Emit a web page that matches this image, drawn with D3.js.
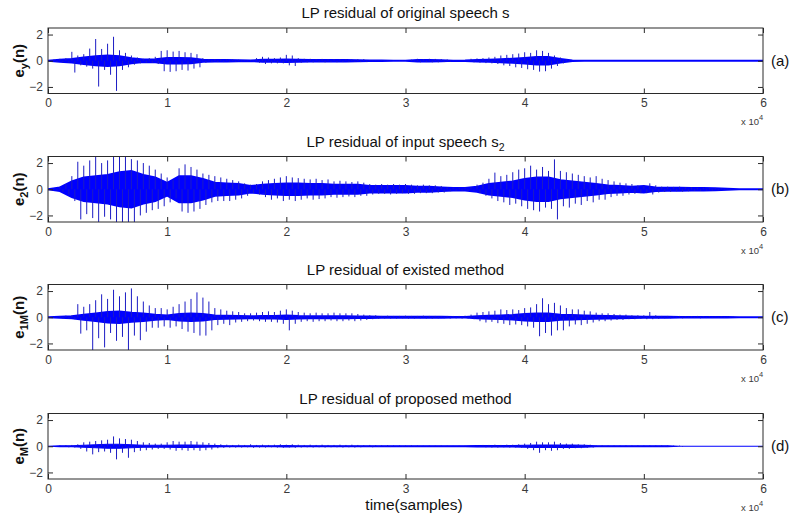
<!DOCTYPE html>
<html>
<head>
<meta charset="utf-8">
<script src="https://cdn.jsdelivr.net/npm/d3@7"></script>
<style>
  body { margin: 0; background: #fff; }
  text { font-family: "Liberation Sans", Arial, sans-serif; }
</style>
</head>
<body>
<svg id="chart" width="794" height="514"></svg>
<script>
// Tick values: x in units of 10^4 samples, y residual amplitude
const xTicks = [0, 1, 2, 3, 4, 5, 6];
const yTicks = [-2, 0, 2];
const xExponent = 4;

// Dense body of each residual: amplitude every 1000 samples (0 .. 60000)
const coreStep = 1000;
const coreA = [
  0, 0.08, 0.15, 0.25, 0.35, 0.4, 0.35, 0.2, 0.1, 0.12,
  0.22, 0.22, 0.2, 0.08, 0.06, 0.06, 0.05, 0.03, 0.08, 0.08,
  0.1, 0.08, 0.07, 0.07, 0.06, 0.06, 0.05, 0.02, 0.02, 0.01,
  0.01, 0.06, 0.07, 0.05, 0.01, 0.02, 0.06, 0.08, 0.12, 0.16,
  0.22, 0.3, 0.3, 0.15, 0.02, 0, 0, 0, 0, 0,
  0, 0, 0, 0, 0, 0, 0, 0, 0, 0, 0
];
const coreB = [
  0, 0.15, 0.6, 0.9, 1.0, 1.1, 1.3, 1.4, 1.1, 0.9,
  0.5, 1.0, 1.0, 0.8, 0.5, 0.45, 0.4, 0.25, 0.35, 0.4,
  0.45, 0.45, 0.4, 0.4, 0.35, 0.35, 0.35, 0.25, 0.25, 0.25,
  0.25, 0.2, 0.2, 0.15, 0.1, 0.1, 0.2, 0.4, 0.5, 0.6,
  0.8, 0.9, 0.9, 0.7, 0.6, 0.5, 0.4, 0.3, 0.25, 0.2,
  0.25, 0.15, 0.12, 0.12, 0.1, 0.1, 0.08, 0.05, 0, 0, 0
];
const coreC = [
  0, 0.05, 0.08, 0.2, 0.3, 0.4, 0.45, 0.35, 0.3, 0.2,
  0.15, 0.25, 0.3, 0.25, 0.15, 0.12, 0.1, 0.08, 0.1, 0.1,
  0.15, 0.1, 0.08, 0.08, 0.08, 0.08, 0.07, 0.06, 0.05, 0.05,
  0.05, 0.04, 0.04, 0.04, 0.03, 0.03, 0.08, 0.12, 0.15, 0.18,
  0.25, 0.3, 0.3, 0.2, 0.18, 0.15, 0.12, 0.1, 0.08, 0.06,
  0.05, 0.05, 0.04, 0.03, 0.03, 0.03, 0.02, 0.02, 0, 0, 0
];
const coreD = [
  0, 0.03, 0.04, 0.08, 0.12, 0.15, 0.15, 0.12, 0.08, 0.08,
  0.08, 0.1, 0.1, 0.08, 0.05, 0.04, 0.04, 0.03, 0.04, 0.04,
  0.05, 0.04, 0.03, 0.03, 0.03, 0.03, 0.03, 0.03, 0.03, 0.03,
  0.03, 0.03, 0.03, 0.03, 0.03, 0.03, 0.05, 0.05, 0.05, 0.05,
  0.08, 0.09, 0.1, 0.1, 0.09, 0.08, 0.03, 0.03, 0.03, 0.03,
  0.03, 0.03, 0.03, 0, 0, 0, 0, 0, 0, 0, 0
];

// Excitation peaks every 500 samples: positive and negative extremes
const peakStep = 500;
const hiA = [
  0, 0.1, 0.15, 0.2, 0.68, 0.4, 0.5, 0.93, 1.66, 0.9,
  1.3, 1.83, 0.8, 0.6, 0.4, 0.25, 0.15, 0.2, 0.3, 0.75,
  0.8, 0.7, 0.75, 0.65, 0.6, 0.5, 0.2, 0.12, 0.12, 0.1,
  0.12, 0.1, 0.08, 0.04, 0.05, 0.2, 0.3, 0.25, 0.2, 0.25,
  0.45, 0.4, 0.2, 0.15, 0.15, 0.12, 0.14, 0.12, 0.13, 0.12,
  0.12, 0.1, 0.12, 0.12, 0.05, 0.03, 0.03, 0.02, 0.02, 0.03,
  0.02, 0.08, 0.15, 0.12, 0.15, 0.14, 0.12, 0.1, 0.03, 0.02,
  0.03, 0.15, 0.18, 0.2, 0.25, 0.3, 0.4, 0.45, 0.5, 0.55,
  0.65, 0.6, 0.8, 0.75, 0.6, 0.4, 0.25, 0.1, 0, 0,
  0, 0, 0, 0, 0, 0, 0, 0, 0, 0,
  0, 0, 0, 0, 0, 0, 0, 0, 0, 0,
  0, 0, 0, 0, 0, 0, 0, 0, 0, 0, 0
];
const loA = [
  0, -0.1, -0.15, -0.15, -0.9, -0.35, -0.45, -0.6, -1.97, -0.7,
  -1.07, -2.3, -0.7, -0.5, -0.3, -0.2, -0.15, -0.15, -0.25, -0.8,
  -0.85, -0.8, -0.7, -0.75, -0.6, -0.5, -0.15, -0.1, -0.1, -0.1,
  -0.1, -0.08, -0.06, -0.04, -0.05, -0.15, -0.25, -0.2, -0.2, -0.2,
  -0.35, -0.4, -0.15, -0.12, -0.12, -0.1, -0.12, -0.1, -0.11, -0.1,
  -0.1, -0.08, -0.1, -0.1, -0.04, -0.03, -0.02, -0.02, -0.02, -0.02,
  -0.02, -0.06, -0.12, -0.1, -0.12, -0.12, -0.1, -0.08, -0.03, -0.02,
  -0.03, -0.12, -0.15, -0.18, -0.2, -0.25, -0.35, -0.4, -0.5, -0.55,
  -0.65, -0.7, -0.83, -0.8, -0.6, -0.4, -0.2, -0.08, 0, 0,
  0, 0, 0, 0, 0, 0, 0, 0, 0, 0,
  0, 0, 0, 0, 0, 0, 0, 0, 0, 0,
  0, 0, 0, 0, 0, 0, 0, 0, 0, 0, 0
];
const hiB = [
  0, 0.05, 0.2, 0.4, 1.0, 2.1, 1.8, 2.2, 2.5, 2.0,
  2.2, 2.5, 2.5, 2.5, 2.3, 2.2, 2.0, 1.8, 1.5, 1.2,
  0.9, 0.7, 1.6, 1.9, 1.7, 1.5, 1.2, 1.1, 1.0, 0.9,
  0.8, 0.7, 0.6, 0.45, 0.35, 0.4, 0.6, 0.7, 0.8, 0.9,
  1.0, 0.9, 0.85, 0.8, 0.75, 0.8, 0.7, 0.75, 0.6, 0.65,
  0.6, 0.55, 0.6, 0.5, 0.4, 0.35, 0.4, 0.35, 0.4, 0.35,
  0.4, 0.35, 0.3, 0.35, 0.3, 0.3, 0.25, 0.15, 0.12, 0.12,
  0.12, 0.15, 0.35, 0.5, 0.8, 1.27, 1.0, 1.1, 1.3, 1.5,
  1.6, 1.8, 1.5, 1.7, 1.4, 2.28, 1.4, 1.3, 1.2, 1.1,
  1.0, 0.9, 1.0, 0.8, 0.7, 0.6, 0.5, 0.45, 0.4, 0.3,
  0.3, 0.45, 0.3, 0.2, 0.2, 0.18, 0.2, 0.15, 0.15, 0.12,
  0.12, 0.1, 0.1, 0.08, 0.05, 0.02, 0, 0, 0, 0, 0
];
const loB = [
  0, -0.05, -0.2, -0.4, -0.9, -2.3, -1.9, -2.2, -2.5, -2.1,
  -2.3, -2.5, -2.5, -2.5, -2.5, -2.0, -1.8, -1.6, -1.5, -1.3,
  -1.0, -0.7, -1.7, -1.8, -1.7, -1.5, -1.2, -1.0, -0.9, -0.9,
  -0.9, -0.8, -0.7, -0.5, -0.3, -0.4, -0.6, -0.8, -0.7, -0.9,
  -0.8, -0.9, -0.8, -0.7, -0.8, -0.75, -0.7, -0.6, -0.65, -0.6,
  -0.55, -0.6, -0.5, -0.5, -0.4, -0.35, -0.35, -0.4, -0.35, -0.3,
  -0.35, -0.35, -0.3, -0.3, -0.3, -0.25, -0.25, -0.15, -0.12, -0.1,
  -0.12, -0.12, -0.3, -0.5, -0.7, -0.9, -1.0, -1.2, -1.1, -1.3,
  -1.5, -1.6, -1.7, -1.4, -1.5, -2.3, -1.3, -1.4, -1.1, -1.2,
  -0.9, -1.0, -0.8, -0.8, -0.6, -0.5, -0.5, -0.4, -0.35, -0.3,
  -0.3, -0.4, -0.25, -0.2, -0.2, -0.15, -0.18, -0.15, -0.12, -0.12,
  -0.1, -0.1, -0.08, -0.06, -0.05, -0.02, 0, 0, 0, 0, 0
];
const hiC = [
  0, 0.05, 0.1, 0.12, 0.15, 1.0, 0.8, 1.0, 1.3, 1.75,
  1.4, 2.1, 1.6, 1.9, 2.2, 1.6, 1.2, 0.9, 0.7, 0.7,
  0.6, 0.8, 1.0, 1.2, 1.4, 1.9, 1.5, 1.2, 0.7, 0.6,
  0.5, 0.45, 0.4, 0.3, 0.3, 0.35, 0.4, 0.45, 0.4, 0.5,
  0.6, 0.5, 0.4, 0.35, 0.3, 0.35, 0.3, 0.3, 0.35, 0.3,
  0.3, 0.3, 0.25, 0.2, 0.15, 0.15, 0.1, 0.12, 0.1, 0.1,
  0.12, 0.1, 0.1, 0.12, 0.1, 0.1, 0.08, 0.1, 0.1, 0.1,
  0.12, 0.2, 0.35, 0.4, 0.45, 0.5, 0.6, 0.55, 0.6, 0.55,
  0.7, 0.75, 1.0, 1.45, 1.0, 1.1, 0.9, 0.7, 0.6, 0.6,
  0.5, 0.45, 0.35, 0.3, 0.3, 0.25, 0.2, 0.2, 0.15, 0.15,
  0.15, 0.4, 0.15, 0.1, 0.1, 0.08, 0.1, 0.08, 0.08, 0.1,
  0.08, 0.08, 0.06, 0.08, 0.06, 0.05, 0, 0, 0, 0, 0
];
const loC = [
  0, -0.05, -0.1, -0.1, -0.15, -1.25, -1.0, -2.5, -1.6, -2.3,
  -1.2, -1.8, -1.5, -2.5, -1.4, -1.75, -1.1, -0.8, -0.8, -0.7,
  -0.8, -0.7, -0.9, -1.1, -1.2, -1.4, -1.4, -1.0, -0.6, -0.5,
  -0.6, -0.4, -0.35, -0.3, -0.25, -0.3, -0.35, -0.35, -0.4, -0.5,
  -1.0, -0.5, -0.35, -0.3, -0.35, -0.3, -0.3, -0.25, -0.3, -0.3,
  -0.25, -0.3, -0.25, -0.2, -0.15, -0.12, -0.1, -0.1, -0.1, -0.08,
  -0.1, -0.1, -0.08, -0.1, -0.1, -0.08, -0.08, -0.1, -0.08, -0.1,
  -0.1, -0.15, -0.3, -0.4, -0.35, -0.45, -0.5, -0.6, -0.55, -0.6,
  -0.7, -0.8, -1.45, -1.2, -1.4, -1.0, -1.0, -0.7, -0.55, -0.6,
  -0.5, -0.4, -0.3, -0.3, -0.25, -0.2, -0.2, -0.15, -0.15, -0.12,
  -0.15, -0.15, -0.12, -0.08, -0.08, -0.06, -0.08, -0.06, -0.06, -0.08,
  -0.06, -0.06, -0.05, -0.06, -0.05, -0.04, 0, 0, 0, 0, 0
];
const hiD = [
  0, 0.03, 0.06, 0.08, 0.1, 0.15, 0.3, 0.35, 0.4, 0.45,
  0.5, 0.75, 0.6, 0.55, 0.5, 0.4, 0.3, 0.25, 0.2, 0.2,
  0.3, 0.4, 0.35, 0.35, 0.4, 0.35, 0.3, 0.25, 0.2, 0.15,
  0.12, 0.1, 0.12, 0.1, 0.15, 0.1, 0.12, 0.1, 0.12, 0.15,
  0.12, 0.15, 0.12, 0.1, 0.12, 0.1, 0.12, 0.1, 0.1, 0.12,
  0.1, 0.12, 0.1, 0.08, 0.1, 0.08, 0.06, 0.08, 0.06, 0.06,
  0.05, 0.06, 0.05, 0.04, 0.05, 0.04, 0.05, 0.04, 0.03, 0.04,
  0.04, 0.05, 0.06, 0.1, 0.1, 0.12, 0.1, 0.12, 0.12, 0.15,
  0.2, 0.25, 0.35, 0.3, 0.3, 0.35, 0.25, 0.2, 0.2, 0.15,
  0.15, 0.12, 0.06, 0.06, 0.05, 0.06, 0.05, 0.06, 0.05, 0.06,
  0.05, 0.06, 0.05, 0.06, 0.05, 0.05, 0.05, 0, 0, 0,
  0, 0, 0, 0, 0, 0, 0, 0, 0, 0, 0
];
const loD = [
  0, -0.03, -0.06, -0.08, -0.1, -0.2, -0.4, -0.62, -0.45, -0.4,
  -0.5, -1.0, -0.5, -0.88, -0.45, -0.35, -0.3, -0.25, -0.2, -0.2,
  -0.25, -0.35, -0.3, -0.35, -0.3, -0.35, -0.3, -0.25, -0.15, -0.12,
  -0.1, -0.1, -0.1, -0.08, -0.12, -0.1, -0.1, -0.08, -0.1, -0.12,
  -0.1, -0.12, -0.1, -0.08, -0.1, -0.08, -0.1, -0.08, -0.08, -0.1,
  -0.08, -0.1, -0.08, -0.06, -0.08, -0.06, -0.05, -0.06, -0.05, -0.05,
  -0.04, -0.05, -0.04, -0.03, -0.04, -0.03, -0.04, -0.03, -0.03, -0.03,
  -0.03, -0.04, -0.05, -0.08, -0.1, -0.1, -0.08, -0.1, -0.1, -0.12,
  -0.2, -0.3, -0.5, -0.3, -0.35, -0.3, -0.2, -0.2, -0.15, -0.15,
  -0.12, -0.1, -0.05, -0.05, -0.04, -0.05, -0.04, -0.05, -0.04, -0.05,
  -0.04, -0.05, -0.04, -0.05, -0.04, -0.04, -0.04, 0, 0, 0,
  0, 0, 0, 0, 0, 0, 0, 0, 0, 0, 0
];

// Panel texts
const titles = ["LP residual of original speech s", "LP residual of input speech s", "LP residual of existed method", "LP residual of proposed method"];
const titleSubs = ["", "2", "", ""];
const yLabelSubs = ["y", "2", "1M", "M"];
const tags = ["(a)", "(b)", "(c)", "(d)"];
const xLabel = "time(samples)";

const cores = [coreA, coreB, coreC, coreD];
const his = [hiA, hiB, hiC, hiD];
const los = [loA, loB, loC, loD];

// Layout
const svg = d3.select("#chart");
const left = 48, right = 763;
const tops = [28, 156.5, 284.5, 413.5];
const ph = 65.5;
const axisColor = "#2a2a2a";
const sigColor = "#0000ff";
const spikeColor = "#1c1cc4";

const x = d3.scaleLinear().domain([0, 60000]).range([left, right]);

tops.forEach((top, p) => {
  const y = d3.scaleLinear().domain([-2.5, 2.5]).range([top + ph, top]);
  const g = svg.append("g");

  const clipId = "clip" + p;
  svg.append("clipPath").attr("id", clipId)
    .append("rect").attr("x", left).attr("y", top).attr("width", right - left).attr("height", ph);

  const plot = g.append("g").attr("clip-path", `url(#${clipId})`);

  // dense body of the residual
  const area = d3.area()
    .x((d, i) => x(i * coreStep))
    .y0(d => y(-d))
    .y1(d => y(d));
  plot.append("path")
    .datum(cores[p])
    .attr("d", area)
    .attr("fill", sigColor)
    .attr("stroke", sigColor)
    .attr("stroke-width", p === 3 ? 1.1 : 1.8);

  // excitation spikes: positive peaks on the grid, negative peaks half a step later
  const spikes = [];
  his[p].forEach((h, i) => {
    if (h !== 0) spikes.push({ s: i * peakStep, v: h });
    const l = los[p][i];
    if (l !== 0) spikes.push({ s: i * peakStep + peakStep / 2, v: l });
  });
  plot.append("g").selectAll("line")
    .data(spikes)
    .join("line")
    .attr("x1", d => x(d.s))
    .attr("x2", d => x(d.s))
    .attr("y1", y(0))
    .attr("y2", d => y(d.v))
    .attr("stroke", spikeColor)
    .attr("stroke-width", 1);

  // axes with inward ticks on all four sides
  const xt = xTicks.map(v => v * Math.pow(10, xExponent));
  const axB = g.append("g").attr("transform", `translate(0,${top + ph})`)
    .call(d3.axisBottom(x).tickValues(xt).tickSizeInner(-5).tickSizeOuter(0).tickPadding(5)
      .tickFormat(d => d3.format("d")(d / Math.pow(10, xExponent))));
  const axT = g.append("g").attr("transform", `translate(0,${top})`)
    .call(d3.axisTop(x).tickValues(xt).tickSizeInner(-5).tickSizeOuter(0).tickFormat(""));
  const axL = g.append("g").attr("transform", `translate(${left},0)`)
    .call(d3.axisLeft(y).tickValues(yTicks).tickSizeInner(-5).tickSizeOuter(0).tickPadding(5)
      .tickFormat(d3.format("d")));
  const axR = g.append("g").attr("transform", `translate(${right},0)`)
    .call(d3.axisRight(y).tickValues(yTicks).tickSizeInner(-5).tickSizeOuter(0).tickFormat(""));

  [axB, axT, axL, axR].forEach(a => {
    a.select(".domain").remove();
    a.selectAll(".tick line").attr("stroke", axisColor);
    a.selectAll(".tick text").attr("fill", "#3a3a3a")
      .style("font-family", '"Liberation Sans", Arial, sans-serif').style("font-size", "12px");
  });

  g.append("rect")
    .attr("x", left).attr("y", top).attr("width", right - left).attr("height", ph)
    .attr("fill", "none").attr("stroke", axisColor).attr("stroke-width", 1);

  // x10^4 multiplier
  const ex = g.append("text")
    .attr("x", 741).attr("y", top + ph + 31.5)
    .attr("fill", "#3a3a3a").style("font-size", "9.5px");
  ex.append("tspan").text("x 10");
  ex.append("tspan").attr("dy", -5).style("font-size", "7.5px").text(String(xExponent));

  // title
  const t = g.append("text")
    .attr("x", (left + right) / 2).attr("y", top - 10)
    .attr("text-anchor", "middle").attr("fill", "#111").style("font-size", "15px");
  t.append("tspan").text(titles[p]);
  if (titleSubs[p]) t.append("tspan").attr("dy", 4).style("font-size", "10.5px").text(titleSubs[p]);

  // y label
  const yl = g.append("text")
    .attr("transform", `translate(24,${top + ph / 2}) rotate(-90)`)
    .attr("text-anchor", "middle").attr("fill", "#111")
    .style("font-size", "15px").style("font-weight", "bold");
  yl.append("tspan").text("e");
  yl.append("tspan").attr("dy", 4).style("font-size", "11px").text(yLabelSubs[p]);
  yl.append("tspan").attr("dy", -4).text("(n)");

  // panel tag
  g.append("text")
    .attr("x", 771).attr("y", top + ph / 2 + 5)
    .attr("fill", "#111").style("font-size", "15px").text(tags[p]);
});

svg.append("text")
  .attr("x", 414).attr("y", 510)
  .attr("text-anchor", "middle").attr("fill", "#111")
  .style("font-size", "15.5px").text(xLabel);
</script>
</body>
</html>
